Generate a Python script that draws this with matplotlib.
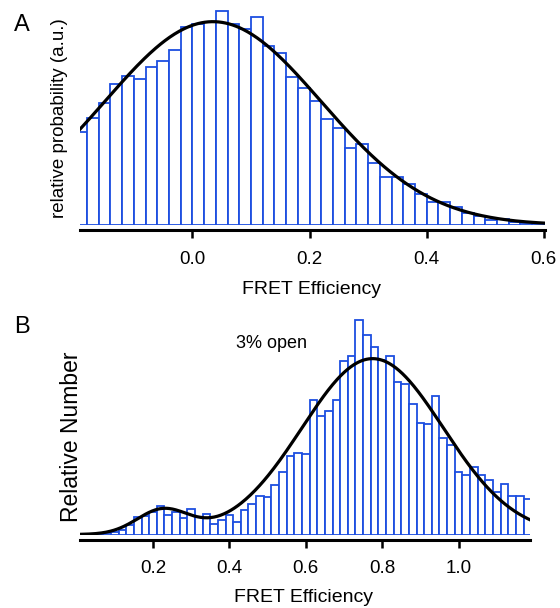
import numpy as np
import matplotlib
matplotlib.use('Agg')
from matplotlib import pyplot as plt

plt.rcParams['font.family'] = ['Liberation Sans', 'DejaVu Sans']

# panel A: histogram, 0.02 wide bins starting at -0.2 (relative units)
a_left = -0.2
a_width = 0.02
a_heights = [280, 320, 367, 422, 447, 438, 475, 492, 525, 595,
             603, 609, 643, 603, 587, 623, 537, 515, 445, 412,
             373, 318, 292, 232, 243, 187, 145, 143, 122, 92,
             70, 70, 55, 37, 27, 15, 18, 8, 7, 5]
# gaussian fit for A: amplitude, centre, sigma
a_fit = (610, 0.035, 0.185)
a_ticks = [0.0, 0.2, 0.4, 0.6]
a_ticklabels = ['0.0', '0.2', '0.4', '0.6']

# panel B: histogram, bins centred on multiples of 0.02
b_width = 0.02
b_heights = [0, 1, 1, 2, 5, 8, 13, 28, 53, 57,
             67, 85, 60, 68, 50, 77, 54, 61, 33, 45,
             58, 38, 73, 91, 116, 113, 148, 187, 236, 245,
             241, 405, 357, 370, 403, 522, 537, 645, 598, 562,
             525, 537, 457, 452, 392, 335, 332, 417, 289, 268,
             189, 178, 203, 178, 163, 127, 153, 117, 115, 107]
# two gaussian fit for B: (amplitude, centre, sigma)
b_fit = [(72, 0.225, 0.0675), (528, 0.775, 0.185)]
b_ticks = [0.2, 0.4, 0.6, 0.8, 1.0]
b_ticklabels = ['0.2', '0.4', '0.6', '0.8', '1.0']

blue = '#1d4ee0'
W, H = 560, 608
fig = plt.figure(figsize=(W / 100, H / 100), dpi=100)


def style(ax):
    for s in ['left', 'top', 'right']:
        ax.spines[s].set_visible(False)
    ax.spines['bottom'].set_position(('outward', 3.6))
    ax.spines['bottom'].set_linewidth(2.2)
    ax.set_yticks([])
    ax.tick_params(axis='x', direction='out', length=6, width=1.8,
                   labelsize=13.5, pad=9)


# ---- A ----
axA = fig.add_axes([80 / W, (H - 225) / H, 465 / W, 217 / H])
xa = a_left + a_width * np.arange(len(a_heights))
axA.bar(xa, a_heights, width=a_width, align='edge', facecolor='white',
        edgecolor=blue, linewidth=1.3)
xx = np.linspace(-0.192, 0.602, 400)
amp, mu, sig = a_fit
axA.plot(xx, amp * np.exp(-(xx - mu) ** 2 / (2 * sig ** 2)), color='black', lw=2.3)
axA.set_xlim(-0.192, 0.602)
axA.set_ylim(0, 651)
style(axA)
axA.set_xticks(a_ticks)
axA.set_xticklabels(a_ticklabels)

# ---- B ----
axB = fig.add_axes([80 / W, (H - 534.5) / H, 450 / W, 216.5 / H])
xb = b_width * np.arange(len(b_heights))
axB.bar(xb, b_heights, width=b_width, align='center', facecolor='white',
        edgecolor=blue, linewidth=1.3)
xx = np.linspace(0.009, 1.187, 400)
yy = np.zeros_like(xx)
for amp, mu, sig in b_fit:
    yy += amp * np.exp(-(xx - mu) ** 2 / (2 * sig ** 2))
axB.plot(xx, yy, color='black', lw=2.3)
axB.set_xlim(0.009, 1.187)
axB.set_ylim(0, 650)
style(axB)
axB.set_xticks(b_ticks)
axB.set_xticklabels(b_ticklabels)
axB.text(0.51, 574, '3% open', ha='center', va='center', fontsize=13)

# labels
fig.text(311 / W, 1 - 289 / H, 'FRET Efficiency', ha='center', va='center', fontsize=14)
fig.text(303 / W, 1 - 598 / H, 'FRET Efficiency', ha='center', va='center', fontsize=14)
fig.text(60 / W, 1 - 118 / H, 'relative probability (a.u.)', rotation=90,
         ha='center', va='center', fontsize=13.5)
fig.text(71 / W, 1 - 437 / H, 'Relative Number', rotation=90,
         ha='center', va='center', fontsize=16.5)
fig.text(22 / W, 1 - 25 / H, 'A', ha='center', va='center', fontsize=17)
fig.text(22 / W, 1 - 327 / H, 'B', ha='center', va='center', fontsize=17)

plt.savefig('out.png', dpi=100)
